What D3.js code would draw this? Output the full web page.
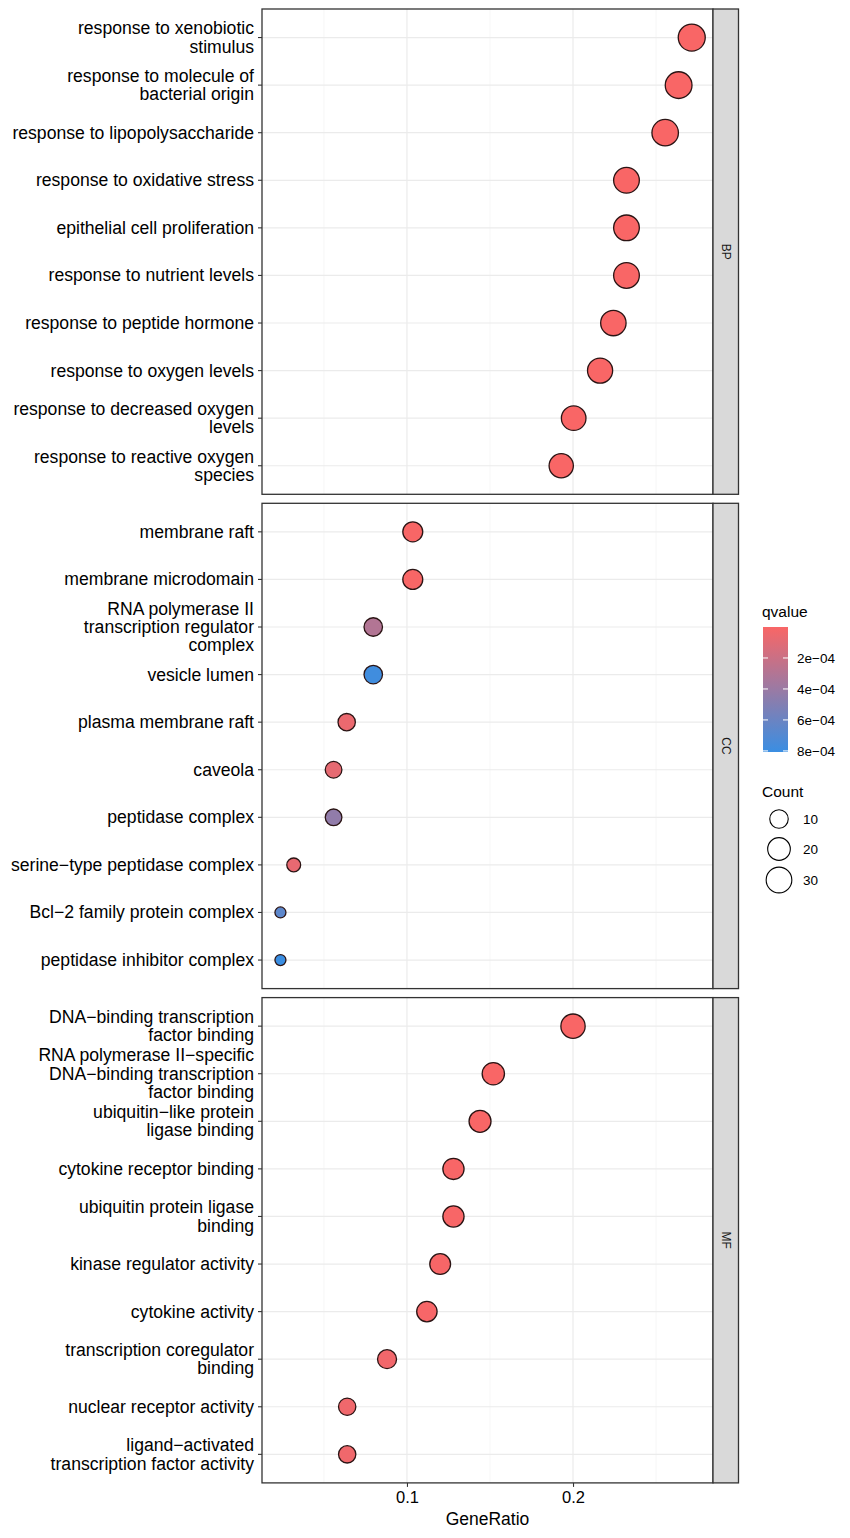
<!DOCTYPE html>
<html><head><meta charset="utf-8">
<script src="https://cdn.jsdelivr.net/npm/d3@7"></script>
<style>body{margin:0;background:#fff}svg{display:block}</style>
</head><body>
<script>
// ---------- data ----------
const facets = ["BP", "CC", "MF"];

const bpTerms = ["response to xenobiotic\nstimulus","response to molecule of\nbacterial origin","response to lipopolysaccharide","response to oxidative stress","epithelial cell proliferation","response to nutrient levels","response to peptide hormone","response to oxygen levels","response to decreased oxygen\nlevels","response to reactive oxygen\nspecies"];
const bpRatio = [0.2715,0.2636,0.2555,0.2322,0.2322,0.2322,0.2243,0.2163,0.2004,0.1929];
const bpCount = [35,34,33,30,30,30,29,28,26,25];
const bpQ = [1e-9,1e-9,2e-9,5e-8,8e-8,6e-8,3e-7,6e-7,1e-6,2e-6];

const ccTerms = ["membrane raft","membrane microdomain","RNA polymerase II\ntranscription regulator\ncomplex","vesicle lumen","plasma membrane raft","caveola","peptidase complex","serine\u2212type peptidase complex","Bcl\u22122 family protein complex","peptidase inhibitor complex"];
const ccRatio = [0.1035,0.1035,0.0797,0.0797,0.0637,0.0558,0.0558,0.0318,0.0238,0.0238];
const ccCount = [13,13,10,10,8,7,7,4,3,3];
const ccQ = [3e-6,3e-6,3.0e-4,7.8e-4,6e-5,8e-5,4.4e-4,7e-5,6.6e-4,8.07e-4];

const mfTerms = ["DNA\u2212binding transcription\nfactor binding","RNA polymerase II\u2212specific\nDNA\u2212binding transcription\nfactor binding","ubiquitin\u2212like protein\nligase binding","cytokine receptor binding","ubiquitin protein ligase\nbinding","kinase regulator activity","cytokine activity","transcription coregulator\nbinding","nuclear receptor activity","ligand\u2212activated\ntranscription factor activity"];
const mfRatio = [0.200,0.152,0.144,0.128,0.128,0.120,0.112,0.088,0.064,0.064];
const mfCount = [25,19,18,16,16,15,14,11,8,8];
const mfQ = [2e-7,1e-6,2e-6,4e-6,5e-6,8e-6,1e-5,3e-5,4e-5,4e-5];

const xTicks = [0.1, 0.2];
const xMinor = [0.05, 0.15, 0.25];
const qTicks = [2e-4, 4e-4, 6e-4, 8e-4];
const qTickLabels = ["2e\u221204","4e\u221204","6e\u221204","8e\u221204"];
const countBreaks = [10, 20, 30];

// ---------- build ----------
const panels = [
  {name:"BP", terms:bpTerms, ratio:bpRatio, count:bpCount, q:bpQ},
  {name:"CC", terms:ccTerms, ratio:ccRatio, count:ccCount, q:ccQ},
  {name:"MF", terms:mfTerms, ratio:mfRatio, count:mfCount, q:mfQ}
];
const allQ = [].concat(bpQ, ccQ, mfQ);
const allC = [].concat(bpCount, ccCount, mfCount);

const W = 850, H = 1538;
const left = 262, right = 713, stripW = 25.5;
const top0 = 9, panelH = 485.3, gap = 9;
const FONT = "'Liberation Sans', Arial, Helvetica, sans-serif";

const svg = d3.select("body").append("svg").attr("width", W).attr("height", H)
  .style("font-family", FONT);

const x = d3.scaleLinear().domain([0.0127, 0.2843]).range([left, right]);
const qMin = d3.min(allQ), qMax = d3.max(allQ);
const color = d3.scaleLinear().domain([qMin, qMax]).range(["#F96666", "#3A8EE2"]).interpolate(d3.interpolateRgb);
const cMin = d3.min(allC), cMax = d3.max(allC);
const sz = d3.scaleSqrt().domain([0, cMax - cMin]).range([0, 8]);
const radius = c => 5.5 + sz(c - cMin);

panels.forEach((p, i) => {
  const pt = top0 + i * (panelH + gap), pb = pt + panelH;
  const y = d3.scalePoint().domain(p.terms).range([pt, pb]).padding(0.6);
  const g = svg.append("g");
  g.selectAll(".minor").data(xMinor).join("line")
    .attr("x1", d => x(d)).attr("x2", d => x(d)).attr("y1", pt).attr("y2", pb)
    .attr("stroke", "#F2F2F2").attr("stroke-width", 0.7);
  g.selectAll(".majx").data(xTicks).join("line")
    .attr("x1", d => x(d)).attr("x2", d => x(d)).attr("y1", pt).attr("y2", pb)
    .attr("stroke", "#EBEBEB").attr("stroke-width", 1.2);
  g.selectAll(".majy").data(p.terms).join("line")
    .attr("x1", left).attr("x2", right).attr("y1", d => y(d)).attr("y2", d => y(d))
    .attr("stroke", "#EBEBEB").attr("stroke-width", 1.2);
  const data = p.terms.map((t, k) => ({t, r: p.ratio[k], c: p.count[k], q: p.q[k]}));
  g.selectAll("circle").data(data).join("circle")
    .attr("cx", d => x(d.r)).attr("cy", d => y(d.t)).attr("r", d => radius(d.c))
    .attr("fill", d => color(d.q)).attr("stroke", "#2a1414").attr("stroke-width", 1.3);
  g.append("rect").attr("x", left).attr("y", pt).attr("width", right - left).attr("height", panelH)
    .attr("fill", "none").attr("stroke", "#333").attr("stroke-width", 1.3);
  g.append("rect").attr("x", right).attr("y", pt).attr("width", stripW).attr("height", panelH)
    .attr("fill", "#D9D9D9").attr("stroke", "#333").attr("stroke-width", 1.3);
  g.append("text").attr("transform", `translate(${right + stripW/2},${(pt+pb)/2}) rotate(90)`)
    .attr("text-anchor", "middle").attr("dy", "0.35em").attr("font-size", 12).attr("fill", "#1a1a1a").text(p.name);
  g.selectAll(".yt").data(p.terms).join("line")
    .attr("x1", left - 4).attr("x2", left).attr("y1", d => y(d)).attr("y2", d => y(d))
    .attr("stroke", "#333").attr("stroke-width", 1.1);
  const lbl = g.selectAll(".yl").data(p.terms).join("text")
    .attr("text-anchor", "end").attr("font-size", 17.6).attr("fill", "#000");
  lbl.each(function(d) {
    const lines = d.split("\n");
    const n = lines.length;
    const sel = d3.select(this);
    lines.forEach((ln, k) => {
      sel.append("tspan").attr("x", 254)
        .attr("y", y(d) + 6 + (k - (n - 1) / 2) * 18.3).text(ln);
    });
  });
  if (i === panels.length - 1) {
    const axis = d3.axisBottom(x).tickValues(xTicks).tickSize(4).tickPadding(4).tickFormat(d3.format(".1f"));
    const ax = svg.append("g").attr("transform", `translate(0,${pb})`).call(axis);
    ax.select(".domain").remove();
    ax.selectAll(".tick line").attr("stroke", "#333").attr("stroke-width", 1.1);
    ax.selectAll(".tick text").attr("font-size", 16.5).attr("fill", "#000").attr("font-family", FONT);
    svg.append("text").attr("x", (left + right) / 2).attr("y", 1525).attr("text-anchor", "middle")
      .attr("font-size", 17.5).attr("fill", "#000").text("GeneRatio");
  }
});

// ---------- legends ----------
const lg = svg.append("g");
lg.append("text").attr("x", 762).attr("y", 617).attr("font-size", 15.5).attr("fill", "#000").text("qvalue");
const barX = 763, barW = 25, barT = 627, barB = 752;
const defs = svg.append("defs");
const grad = defs.append("linearGradient").attr("id", "qg").attr("x1", 0).attr("x2", 0).attr("y1", 0).attr("y2", 1);
d3.range(0, 1.0001, 0.1).forEach(t => {
  grad.append("stop").attr("offset", t).attr("stop-color", color(qMin + t * (qMax - qMin)));
});
lg.append("rect").attr("x", barX).attr("y", barT).attr("width", barW).attr("height", barB - barT).attr("fill", "url(#qg)");
const qy = d3.scaleLinear().domain([qMin, qMax]).range([barT, barB]);
qTicks.forEach((q, k) => {
  const yy = qy(q);
  lg.append("line").attr("x1", barX).attr("x2", barX + 5).attr("y1", yy).attr("y2", yy).attr("stroke", "#fff").attr("stroke-width", 1);
  lg.append("line").attr("x1", barX + barW - 5).attr("x2", barX + barW).attr("y1", yy).attr("y2", yy).attr("stroke", "#fff").attr("stroke-width", 1);
  lg.append("text").attr("x", 797).attr("y", yy + 5).attr("font-size", 13.5).attr("fill", "#000").text(qTickLabels[k]);
});
lg.append("text").attr("x", 762).attr("y", 797).attr("font-size", 15.5).attr("fill", "#000").text("Count");
const cy = [819, 849, 880];
countBreaks.forEach((c, k) => {
  lg.append("circle").attr("cx", 779).attr("cy", cy[k]).attr("r", radius(c)).attr("fill", "none").attr("stroke", "#000").attr("stroke-width", 1.1);
  lg.append("text").attr("x", 803).attr("y", cy[k] + 5).attr("font-size", 13.5).attr("fill", "#000").text(c);
});
</script>
</body></html>
